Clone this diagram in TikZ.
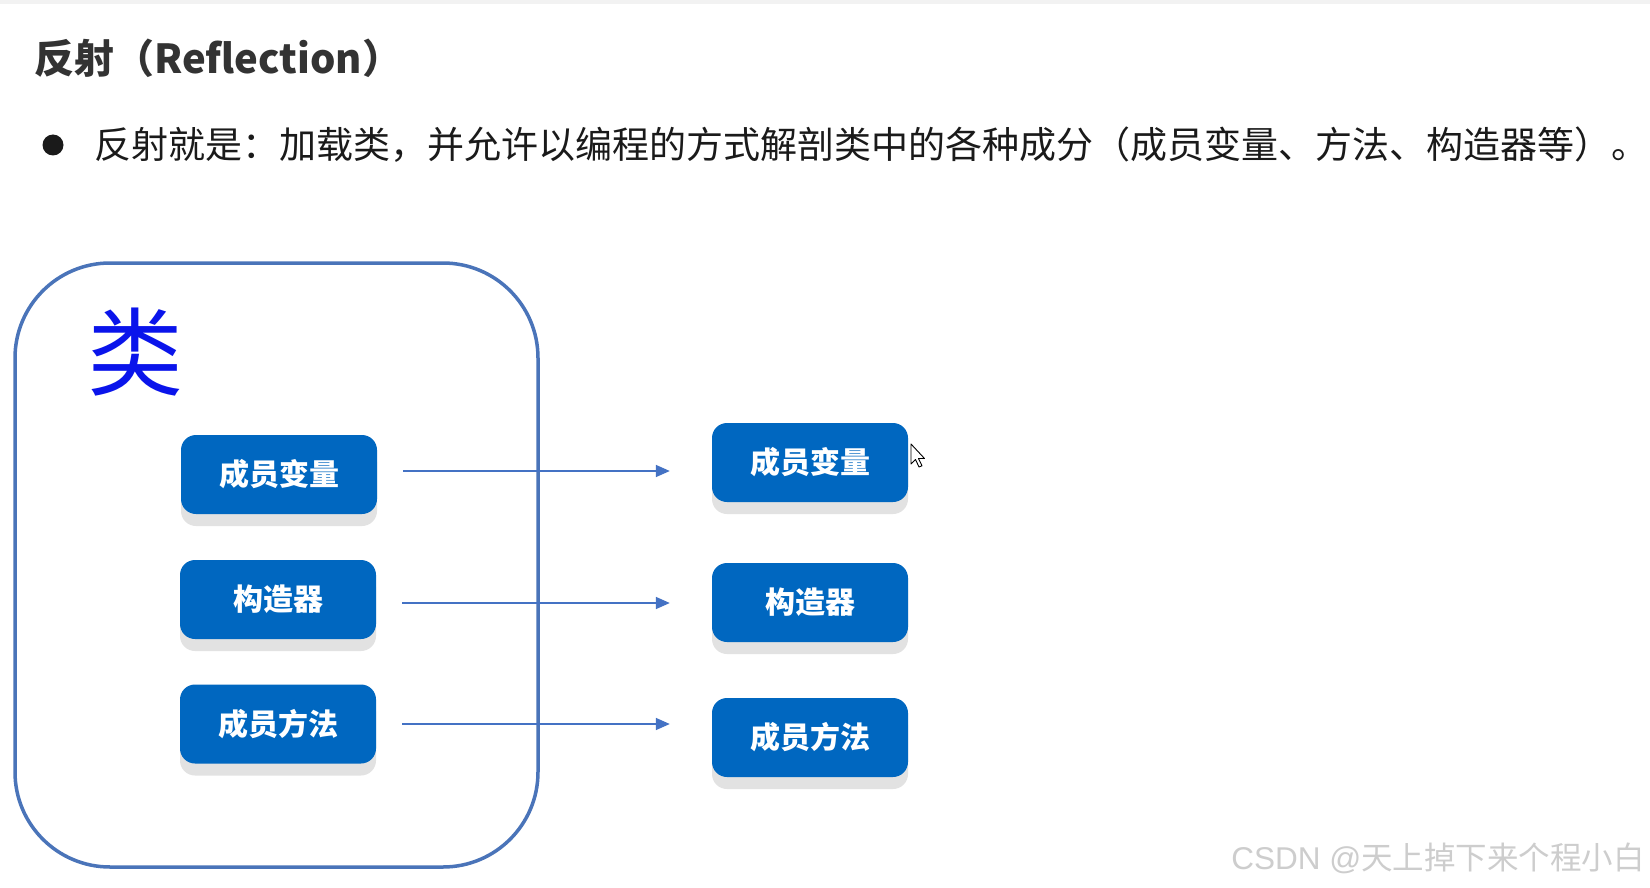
\documentclass[tikz,border=0pt]{standalone}
\usepackage{fontspec}
\setmainfont{Liberation Sans}
\newfontfamily\cjk{Noto Sans CJK SC}
\usetikzlibrary{shadows,arrows.meta}
\definecolor{boxblue}{RGB}{0,103,192}
\definecolor{frameblue}{RGB}{74,116,185}
\definecolor{arrblue}{RGB}{68,114,196}
\definecolor{titlegray}{RGB}{51,51,51}
\definecolor{textblack}{RGB}{26,26,26}
\definecolor{markgray}{RGB}{205,205,205}
\definecolor{shadowgray}{RGB}{226,226,226}
\begin{document}
\begin{tikzpicture}[x=1pt,y=-1pt,
  txt/.style={inner sep=0pt, anchor=west},
  titletxt/.style={txt, text=titlegray, font=\cjk\bfseries\fontsize{40pt}{46pt}\selectfont},
  bodytxt/.style={txt, text=textblack, font=\cjk\fontsize{37pt}{44pt}\selectfont},
  member/.style={draw=none, fill=boxblue, rounded corners=15pt, minimum width=196pt, minimum height=79pt,
    inner sep=0pt, text=white, font=\cjk\bfseries\fontsize{30pt}{34pt}\selectfont,
    drop shadow={shadow xshift=0pt, shadow yshift=-12pt, fill=shadowgray, opacity=1}},
  frame/.style={draw=frameblue, line width=3.5pt, rounded corners=95pt},
  arr/.style={draw=arrblue, line width=1.6pt, -{Triangle[length=14pt,width=12pt]}},
  bigchar/.style={inner sep=0pt, text={rgb,255:red,10;green,20;blue,235}, font=\cjk\fontsize{96pt}{100pt}\selectfont},
  wm/.style={inner sep=0pt, anchor=east, text=markgray, font=\fontsize{31.5pt}{36pt}\selectfont}
]
\useasboundingbox (0,0) rectangle (1650,888);
\fill[white] (0,0) rectangle (1650,888);
\fill[black!5] (0,0) rectangle (1650,4);

% title and bullet
\node[titletxt] (title) at (34,58) {反射（Reflection）};
\fill[textblack] (53,145) circle (10.5pt);
\node[bodytxt] (body) at (94,145) {反射就是：加载类，并允许以编程的方式解剖类中的各种成分（成员变量、方法、构造器等）。};

% class frame
\draw[frame] (15,263) rectangle (538,867);
\node[bigchar] (lei) at (135,352) {类};

% left members
\node[member] (l1) at (279,474.5) {成员变量};
\node[member] (l2) at (278,599.5) {构造器};
\node[member] (l3) at (278,724) {成员方法};

% right members
\node[member] (r1) at (810,462.5) {成员变量};
\node[member] (r2) at (810,602.5) {构造器};
\node[member] (r3) at (810,737.5) {成员方法};

% arrows
\draw[arr] ([xshift=26pt,yshift=3.5pt]l1.east) -- ([xshift=-42pt,yshift=3.5pt]l1.east -| r1.west);
\draw[arr] ([xshift=26pt,yshift=-3.5pt]l2.east) -- ([xshift=-42pt,yshift=-3.5pt]l2.east -| r2.west);
\draw[arr] ([xshift=26pt]l3.east) -- ([xshift=-42pt]l3.east -| r3.west);

% mouse cursor
\filldraw[fill=white, draw=black, line width=0.9pt, line join=round]
  (911,444) -- (911,464) -- (915.5,459.5) -- (919,467) -- (922,465.8) -- (918.5,458.5) -- (924.5,458.5) -- cycle;

% watermark
\node[wm] (mark) at (1645,858) {CSDN @{\cjk 天上掉下来个程小白}};
\end{tikzpicture}
\end{document}
